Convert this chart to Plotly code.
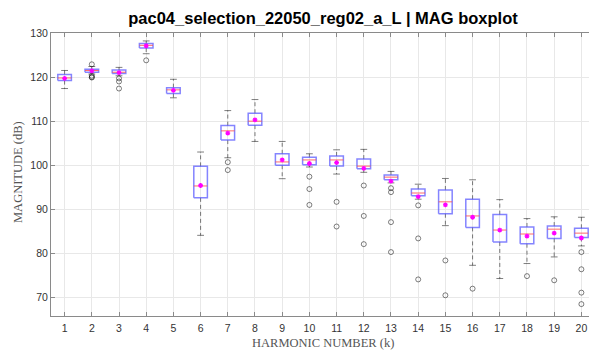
import plotly.graph_objects as go

# Harmonic index and per-harmonic box statistics (dB)
harmonics = list(range(1, 21))
q1 = [119.2, 121.1, 120.8, 126.6, 116.3, 92.6, 105.7, 109.1, 100.0, 100.1,
      99.8, 99.2, 96.7, 93.1, 89.0, 85.9, 82.6, 82.2, 83.4, 83.6]
median = [119.8, 121.5, 121.1, 127.2, 117.1, 95.3, 107.8, 110.0, 100.75, 101.2,
          101.2, 99.8, 97.3, 93.7, 91.7, 88.5, 85.3, 84.4, 85.5, 84.6]
q3 = [120.6, 121.8, 121.6, 127.6, 117.6, 99.75, 109.0, 111.8, 102.6, 101.8,
      102.1, 101.4, 97.8, 94.6, 94.4, 92.3, 88.8, 86.0, 86.2, 85.7]
whisker_low = [117.4, 120.7, 120.3, 125.3, 115.3, 84.1, 101.7, 105.4, 96.95, 99.6,
               98.0, 98.4, 96.0, 92.3, 86.3, 77.3, 74.3, 77.7, 79.2, 81.7]
whisker_high = [121.5, 122.4, 122.2, 128.2, 119.5, 103.0, 112.4, 114.9, 105.4, 102.6,
                103.5, 103.6, 98.6, 95.7, 97.0, 96.7, 92.2, 87.9, 88.3, 88.2]
mean = [119.7, 121.4, 121.0, 127.1, 117.0, 95.4, 107.3, 110.3, 101.2, 100.4,
        100.6, 99.3, 96.4, 92.9, 91.0, 88.2, 85.3, 83.9, 84.6, 83.5]
outliers = [
    [], [122.9, 120.3, 120.0, 119.9], [119.7, 119.0, 117.4], [123.8], [],
    [], [100.7, 98.9], [], [], [97.4, 94.6, 91.0],
    [91.7, 86.1], [95.4, 88.5, 82.1], [94.8, 93.9, 87.1, 80.3], [90.9, 83.4, 74.1], [78.4, 70.5],
    [72.0], [], [74.85], [73.9], [80.3, 76.4, 71.1, 68.5],
]
x_ticks = harmonics
y_ticks = [70, 80, 90, 100, 110, 120, 130]

BOX_HALF = 0.25
CAP_HALF = 0.125

box_x, box_y = [], []
med_x, med_y = [], []
wh_x, wh_y = [], []
cap_x, cap_y = [], []
out_x, out_y = [], []
for i, k in enumerate(harmonics):
    box_x += [k - BOX_HALF, k + BOX_HALF, k + BOX_HALF, k - BOX_HALF, k - BOX_HALF, None]
    box_y += [q1[i], q1[i], q3[i], q3[i], q1[i], None]
    med_x += [k - BOX_HALF, k + BOX_HALF, None]
    med_y += [median[i], median[i], None]
    wh_x += [k, k, None, k, k, None]
    wh_y += [q3[i], whisker_high[i], None, q1[i], whisker_low[i], None]
    cap_x += [k - CAP_HALF, k + CAP_HALF, None, k - CAP_HALF, k + CAP_HALF, None]
    cap_y += [whisker_high[i], whisker_high[i], None, whisker_low[i], whisker_low[i], None]
    for v in outliers[i]:
        out_x.append(k)
        out_y.append(v)

fig = go.Figure()
fig.add_trace(go.Scatter(x=wh_x, y=wh_y, mode="lines",
                         line=dict(color="rgba(0,0,0,0.5)", width=1, dash="4px,3px"),
                         hoverinfo="skip"))
fig.add_trace(go.Scatter(x=cap_x, y=cap_y, mode="lines",
                         line=dict(color="rgba(0,0,0,0.5)", width=1), hoverinfo="skip"))
fig.add_trace(go.Scatter(x=box_x, y=box_y, mode="lines",
                         line=dict(color="rgba(80,80,255,0.7)", width=1.5), hoverinfo="skip"))
fig.add_trace(go.Scatter(x=med_x, y=med_y, mode="lines",
                         line=dict(color="rgba(255,80,80,0.85)", width=1), hoverinfo="skip"))
fig.add_trace(go.Scatter(x=out_x, y=out_y, mode="markers",
                         marker=dict(symbol="circle-open", size=5, color="rgba(0,0,0,0.5)",
                                     line=dict(width=1)), hoverinfo="skip"))
fig.add_trace(go.Scatter(x=harmonics, y=mean, mode="markers",
                         marker=dict(symbol="asterisk", size=4, color="#ff00ff",
                                     line=dict(color="#ff00ff", width=1.3)), hoverinfo="skip"))

serif = "Liberation Serif, DejaVu Serif"
fig.update_layout(
    width=589, height=352,
    margin=dict(l=51, r=0, t=33, b=36),
    plot_bgcolor="white", paper_bgcolor="white",
    showlegend=False,
    title=dict(text="<b>pac04_selection_22050_reg02_a_L | MAG boxplot</b>",
               x=323 / 589, xanchor="center", y=1 - 18 / 352, yanchor="middle",
               font=dict(family="Liberation Sans, Arial", size=16.5, color="#000")),
    font=dict(family="Liberation Sans, Arial", size=10.5, color="#333"),
    annotations=[
        dict(text="HARMONIC NUMBER (k)", xref="paper", yref="paper",
             x=(323 - 51) / 538, y=-(343 - 316) / 283, xanchor="center", yanchor="middle",
             showarrow=False, font=dict(family=serif, size=12.5, color="#555")),
        dict(text="MAGNITUDE (dB)", xref="paper", yref="paper", textangle=-90,
             x=-(51 - 18) / 538, y=(316 - 172) / 283, xanchor="center", yanchor="middle",
             showarrow=False, font=dict(family=serif, size=12.5, color="#555")),
    ],
)
fig.update_xaxes(
    range=[0.5, 20.28], tickvals=x_ticks, ticktext=[str(t) for t in x_ticks],
    showgrid=True, gridcolor="#e8e8e8", gridwidth=1,
    showline=True, linecolor="#8a8a8a", linewidth=1, mirror="ticks",
    ticks="inside", ticklen=4, tickcolor="#8a8a8a",
    ticklabelstandoff=2, zeroline=False,
)
fig.update_yaxes(
    range=[65.8, 130], tickvals=y_ticks,
    showgrid=True, gridcolor="#e8e8e8", gridwidth=1,
    showline=True, linecolor="#8a8a8a", linewidth=1, mirror=False,
    ticks="inside", ticklen=4, tickcolor="#8a8a8a",
    zeroline=False,
)

fig.write_html("out.html")
